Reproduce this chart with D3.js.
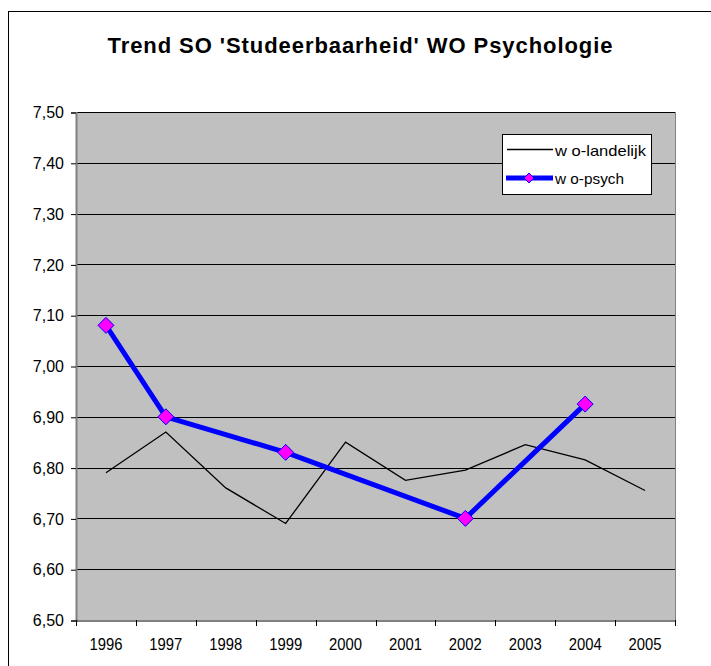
<!DOCTYPE html>
<html><head><meta charset="utf-8">
<script src="https://cdn.jsdelivr.net/npm/d3@7"></script>
<style>body{margin:0;background:#fff}svg{display:block}text{font-family:"Liberation Sans",Arial,sans-serif}</style>
</head><body>
<script>
const years = ["1996","1997","1998","1999","2000","2001","2002","2003","2004","2005"];
const landelijk = [6.79, 6.87, 6.76, 6.69, 6.85, 6.775, 6.795, 6.845, 6.815, 6.755];
const psychYears = ["1996","1997","1999","2002","2004"];
const psych = [7.08, 6.90, 6.83, 6.70, 6.925];
const yTicks = [6.5,6.6,6.7,6.8,6.9,7.0,7.1,7.2,7.3,7.4,7.5];
const title = "Trend SO 'Studeerbaarheid' WO Psychologie";
const legendLabels = ["w o-landelijk","w o-psych"];

const W=711,H=666;
const svg=d3.select("body").append("svg").attr("width",W).attr("height",H);
svg.append("rect").attr("x",8.5).attr("y",11.5).attr("width",W).attr("height",H).attr("fill","#fff").attr("stroke","#000");

const L=76,R=675,T=112,B=620;
const x=d3.scaleBand().domain(years).range([L,R]);
const y=d3.scaleLinear().domain([6.5,7.5]).range([B,T]);

svg.append("rect").attr("x",L).attr("y",T).attr("width",R-L).attr("height",B-T).attr("fill","#C0C0C0");
svg.append("g").selectAll("line").data(yTicks.slice(1)).join("line")
  .attr("x1",L).attr("x2",R).attr("y1",d=>Math.round(y(d))+0.5).attr("y2",d=>Math.round(y(d))+0.5).attr("stroke","#000");
svg.append("line").attr("x1",R+0.5).attr("x2",R+0.5).attr("y1",T).attr("y2",B).attr("stroke","#808080");

const fmt=d=>d3.format(".2f")(d).replace(".",",");
const ya=svg.append("g").attr("transform",`translate(${L},0.5)`).call(d3.axisLeft(y).tickValues(yTicks).tickFormat(fmt).tickSize(5).tickPadding(7));
ya.select(".domain").attr("stroke","#808080").attr("stroke-width",2);
ya.selectAll("text").attr("font-size",16).attr("fill","#000");
ya.selectAll(".tick line").attr("stroke","#000");

const xa=svg.append("g").attr("transform",`translate(0,${B+0.5})`).call(d3.axisBottom(x).tickSize(0).tickPadding(18));
xa.select(".domain").attr("stroke","#000");
xa.selectAll("text").attr("font-size",16).attr("fill","#000").attr("textLength",33).attr("lengthAdjust","spacingAndGlyphs");
svg.append("g").selectAll("line").data(d3.range(years.length+1)).join("line")
  .attr("x1",i=>Math.round(L+i*x.step())+0.5).attr("x2",i=>Math.round(L+i*x.step())+0.5)
  .attr("y1",B).attr("y2",B+6).attr("stroke","#000");

const cx=d=>x(d)+x.bandwidth()/2;
const line=d3.line().x(d=>cx(d[0])).y(d=>y(d[1]));
svg.append("path").datum(years.map((d,i)=>[d,landelijk[i]])).attr("d",line).attr("fill","none").attr("stroke","#000").attr("stroke-width",1.3);
const pd=psychYears.map((d,i)=>[d,psych[i]]);
svg.append("path").datum(pd).attr("d",line).attr("fill","none").attr("stroke","#0000FF").attr("stroke-width",5).attr("stroke-linejoin","round");
const diamond=(s)=>`M0,${-s}L${s},0L0,${s}L${-s},0Z`;
svg.append("g").selectAll("path").data(pd).join("path")
  .attr("transform",d=>`translate(${cx(d[0])},${y(d[1])})`).attr("d",diamond(8))
  .attr("fill","#FF00FF").attr("stroke","#0000FF").attr("stroke-width",1);

svg.append("text").attr("x",360).attr("y",53).attr("text-anchor","middle").attr("font-size",22).attr("font-weight","bold")
  .attr("textLength",505).attr("lengthAdjust","spacing").text(title);

const lg=svg.append("g");
lg.append("rect").attr("x",502.5).attr("y",134.5).attr("width",149).attr("height",60).attr("fill","#fff").attr("stroke","#000");
lg.append("line").attr("x1",507).attr("x2",553).attr("y1",149.5).attr("y2",149.5).attr("stroke","#000").attr("stroke-width",1.3);
lg.append("text").attr("x",555).attr("y",155.5).attr("font-size",15).attr("textLength",91).attr("lengthAdjust","spacingAndGlyphs").text(legendLabels[0]);
lg.append("line").attr("x1",506).attr("x2",553).attr("y1",178).attr("y2",178).attr("stroke","#0000FF").attr("stroke-width",5);
lg.append("path").attr("transform","translate(529,178)").attr("d",diamond(5)).attr("fill","#FF00FF").attr("stroke","#0000FF");
lg.append("text").attr("x",555).attr("y",184).attr("font-size",15).attr("textLength",69).attr("lengthAdjust","spacingAndGlyphs").text(legendLabels[1]);
</script>
</body></html>
